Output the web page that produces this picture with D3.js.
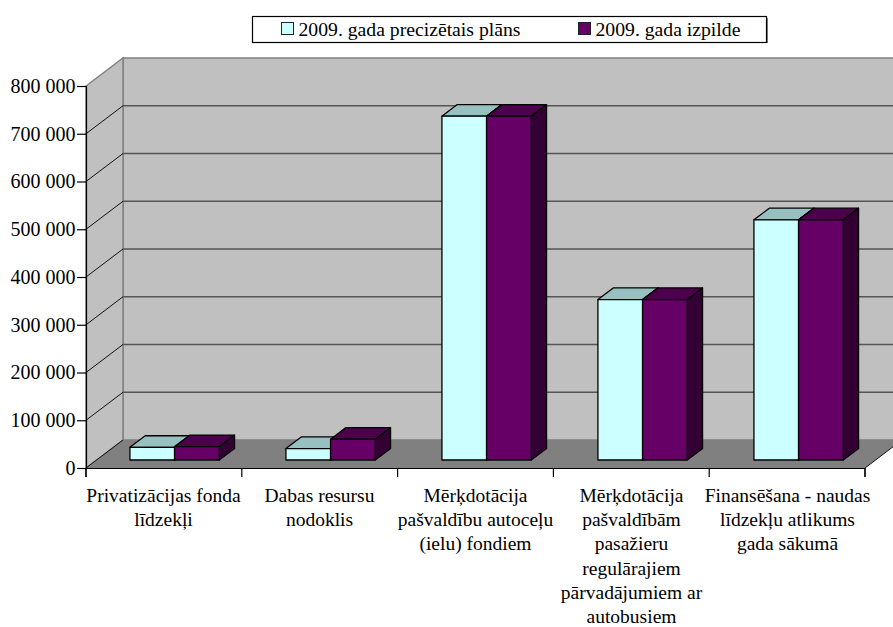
<!DOCTYPE html>
<html>
<head>
<meta charset="utf-8">
<script src="https://cdn.jsdelivr.net/npm/d3@7"></script>
<style>
  html, body { margin: 0; padding: 0; background: #fff; overflow: hidden; }
  text { font-family: "Liberation Serif", serif; font-size: 19.5px; fill: #000; }
</style>
</head>
<body>
<div id="chart"></div>
<script>
var width = 893,
    height = 627;

var categories = ['Privatizācijas fonda līdzekļi', 'Dabas resursu nodoklis',
  'Mērķdotācija pašvaldību autoceļu (ielu) fondiem',
  'Mērķdotācija pašvaldībām pasažieru regulārajiem pārvadājumiem ar autobusiem',
  'Finansēšana - naudas līdzekļu atlikums gada sākumā'];
var categoryLines = [
  ['Privatizācijas fonda', 'līdzekļi'],
  ['Dabas resursu', 'nodoklis'],
  ['Mērķdotācija', 'pašvaldību autoceļu', '(ielu) fondiem'],
  ['Mērķdotācija', 'pašvaldībām', 'pasažieru', 'regulārajiem', 'pārvadājumiem ar', 'autobusiem'],
  ['Finansēšana - naudas', 'līdzekļu atlikums', 'gada sākumā']
];
var seriesNames = ['2009. gada precizētais plāns', '2009. gada izpilde'];
var planValues = [26500, 24000, 720000, 336000, 503000];
var doneValues = [28000, 43500, 720000, 336000, 503000];
var yTicks = [0, 100000, 200000, 300000, 400000, 500000, 600000, 700000, 800000];

var frontColours = ['#ccffff', '#660066'],
    topColours = ['#99c0c0', '#4c004c'],
    sideColours = ['#7a9999', '#330033'];

// depth of the 3d box in pixels
var depthX = 37, depthY = 28;
var barNear = 0.286, barFar = 0.70;

var x0 = d3.scaleBand().domain(categories).range([86, 866]);
var x1 = d3.scaleBand().domain(seriesNames).range([0, x0.bandwidth()]).paddingOuter(0.747);
var y = d3.scaleLinear().domain([0, 800000]).range([468, 86]);

function proj(x, yy, z) {
  return [x + z * depthX, yy - z * depthY];
}
function poly(points) {
  return 'M' + points.map(function(p) { return p.join(','); }).join('L') + 'Z';
}

var svg = d3.select('#chart').append('svg')
    .attr('width', width)
    .attr('height', height)
    .style('display', 'block');

var x = 86, xr = 865, yb = y(0), yt = y(800000);

// walls
svg.append('path').attr('d', poly([proj(xr + 40, yb, 1), proj(x, yb, 1), proj(x, yt, 1), proj(xr + 40, yt, 1)]))
    .attr('fill', '#c0c0c0').attr('stroke', '#808080').attr('stroke-width', 1.5);
svg.append('path').attr('d', poly([proj(x, yb, 0), proj(x, yb, 1), proj(x, yt, 1), proj(x, yt, 0)]))
    .attr('fill', '#c0c0c0').attr('stroke', '#808080').attr('stroke-width', 1.5);
svg.append('path').attr('d', poly([proj(x, yb, 0), proj(x, yb, 1), proj(xr, yb, 1), proj(xr, yb, 0)]))
    .attr('fill', '#808080');

// grid lines, back wall and left wall
yTicks.forEach(function(v) {
  var a = proj(x, y(v), 0), b = proj(x, y(v), 1), c = proj(xr + 40, y(v), 1);
  if (v < 800000 && v > 0) {
    svg.append('line').attr('x1', b[0]).attr('y1', b[1]).attr('x2', c[0]).attr('y2', c[1])
      .attr('stroke', '#555').attr('stroke-width', 1.3);
  }
  if (v < 800000) {
    svg.append('line').attr('x1', a[0]).attr('y1', a[1]).attr('x2', b[0]).attr('y2', b[1])
      .attr('stroke', '#111').attr('stroke-width', 1);
  }
});
var fr = proj(xr, yb, 0), br = proj(xr, yb, 1);
svg.append('line').attr('x1', fr[0]).attr('y1', fr[1]).attr('x2', br[0]).attr('y2', br[1])
    .attr('stroke', '#111').attr('stroke-width', 1);

// bars
[planValues, doneValues].forEach(function(values, s) {
  values.forEach(function(v, i) {
    var left = x0(categories[i]) + x1(seriesNames[s]),
        right = left + x1.bandwidth(),
        g = svg.append('g').attr('stroke', '#000').attr('stroke-width', 1.3).attr('stroke-linejoin', 'round');
    g.append('path')
      .attr('d', poly([proj(left, y(v), barNear), proj(left, y(v), barFar), proj(right, y(v), barFar), proj(right, y(v), barNear)]))
      .attr('fill', topColours[s]);
    g.append('path')
      .attr('d', poly([proj(right, y(0), barNear), proj(right, y(0), barFar), proj(right, y(v), barFar), proj(right, y(v), barNear)]))
      .attr('fill', sideColours[s]);
    g.append('path')
      .attr('d', poly([proj(left, y(0), barNear), proj(right, y(0), barNear), proj(right, y(v), barNear), proj(left, y(v), barNear)]))
      .attr('fill', frontColours[s]);
  });
});

// axes
var yAxis = d3.axisLeft(y)
    .tickValues(yTicks)
    .tickSize(9)
    .tickPadding(1.5)
    .tickFormat(function(d) { return d3.format(',')(d).replace(/,/g, ' '); });
var yG = svg.append('g').attr('transform', 'translate(' + x + ',0)').call(yAxis);
yG.selectAll('line').attr('stroke', '#000').attr('stroke-width', 1.2);
yG.select('.domain').attr('stroke', '#000').attr('stroke-width', 1.2);
yG.selectAll('text').style('font-family', '"Liberation Serif", serif').style('font-size', '20px');

var xBottom = d3.scaleLinear().domain([0, categories.length]).range([x, xr]);
var xAxis = d3.axisBottom(xBottom)
    .tickValues(d3.range(categories.length + 1))
    .tickSize(9)
    .tickFormat('');
var xG = svg.append('g').attr('transform', 'translate(-0.5,' + yb + ')').call(xAxis);
xG.selectAll('line').attr('stroke', '#000').attr('stroke-width', 1.2);
xG.select('.domain').attr('stroke', '#000').attr('stroke-width', 1.2);

// category labels
categoryLines.forEach(function(lines, i) {
  var t = svg.append('text')
    .attr('text-anchor', 'middle')
    .attr('transform', 'translate(' + (x0(categories[i]) + x0.bandwidth() / 2 - 0.5) + ',502)');
  lines.forEach(function(line, n) {
    t.append('tspan').attr('x', 0).attr('y', n * 24.2).text(line);
  });
});

// legend
var legend = svg.append('g');
legend.append('rect').attr('x', 254).attr('y', 18).attr('width', 514).attr('height', 25)
    .attr('fill', '#808080');
legend.append('rect').attr('x', 252.5).attr('y', 16.5).attr('width', 514).attr('height', 26)
    .attr('fill', '#fff').attr('stroke', '#000').attr('stroke-width', 1.2);
var legendX = [281.5, 578.5];
seriesNames.forEach(function(name, s) {
  legend.append('rect').attr('x', legendX[s]).attr('y', 22.5).attr('width', 12).attr('height', 12)
    .attr('fill', frontColours[s]).attr('stroke', '#222').attr('stroke-width', 1);
  legend.append('text').attr('x', legendX[s] + 17).attr('y', 36).style('font-size', '19.7px').text(name);
});
</script>
</body>
</html>
